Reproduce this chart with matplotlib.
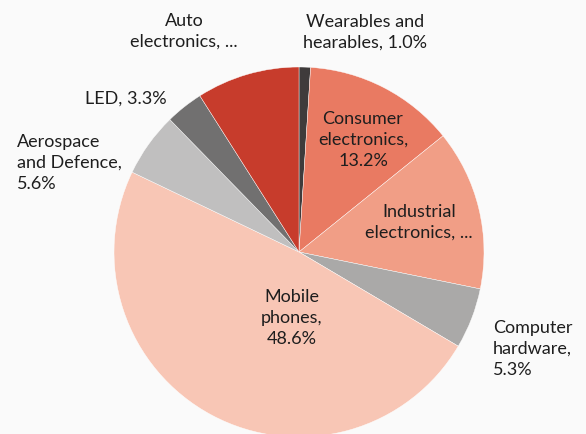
import matplotlib
matplotlib.use("Agg")
import matplotlib.pyplot as plt

plt.rcParams['font.family'] = ['Lato', 'DejaVu Sans']

# slices, clockwise from 12 o'clock
labels = ["Wearables and\nhearables, 1.0%", "Consumer\nelectronics,\n13.2%",
          "Industrial\nelectronics, ...", "Computer\nhardware,\n5.3%",
          "Mobile\nphones,\n48.6%", "Aerospace\nand Defence,\n5.6%",
          "LED, 3.3%", "Auto\nelectronics, ..."]
values = [1.0, 13.2, 14.0, 5.3, 48.6, 5.6, 3.3, 9.0]
colors = ["#3f3b3b", "#e97a62", "#f19e86", "#aaa9a8", "#f8c6b5",
          "#c0bfbf", "#717070", "#c73c2c"]

# label anchor points in pixels (x, y from top) and alignment
label_pos = [(365, 32, "center"), (363, 140, "center"), (419, 222, "center"),
             (493, 349, "left"), (292, 318, "center"), (17, 163, "left"),
             (126, 99, "center"), (184, 31, "center")]

W, H = 586, 434
fig = plt.figure(figsize=(W / 100, H / 100), dpi=100, facecolor="#fafafa")
ax = fig.add_axes([0, 0, 1, 1])
ax.set_facecolor("#fafafa")

ax.pie(values, colors=colors, startangle=90, counterclock=False,
       center=(299, H - 252), radius=185,
       wedgeprops=dict(edgecolor="white", linewidth=0.3), frame=True)
ax.set_xlim(0, W)
ax.set_ylim(0, H)
ax.axis("off")

for lab, (x, y, ha) in zip(labels, label_pos):
    ax.text(x, H - y, lab, ha=ha, va="center", multialignment=ha,
            fontsize=13, color="#1e1e1e", linespacing=1.38)

fig.savefig("out.png", dpi=100, facecolor=fig.get_facecolor())
